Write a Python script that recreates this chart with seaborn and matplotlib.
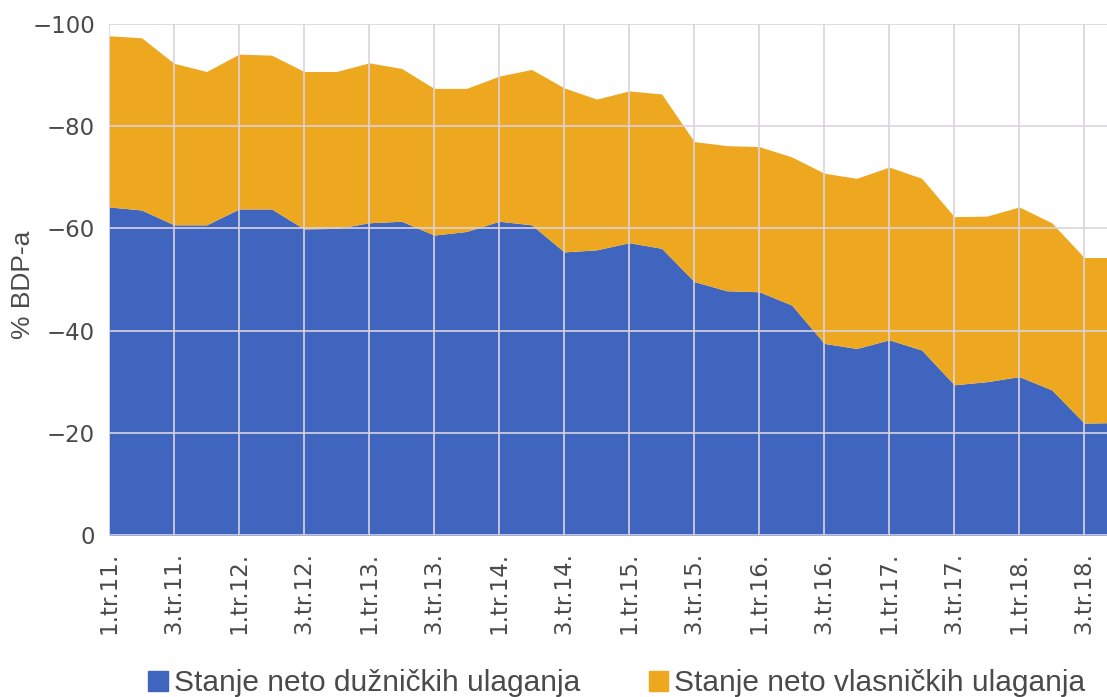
import numpy as np
import matplotlib
matplotlib.use("Agg")
import matplotlib.pyplot as plt
from matplotlib.patches import Patch
import seaborn as sns

# quarterly data, 1.tr.11 .. 4.tr.18 (last one is cut by the right edge)
quarters = [
    "1.tr.11.", "2.tr.11.", "3.tr.11.", "4.tr.11.",
    "1.tr.12.", "2.tr.12.", "3.tr.12.", "4.tr.12.",
    "1.tr.13.", "2.tr.13.", "3.tr.13.", "4.tr.13.",
    "1.tr.14.", "2.tr.14.", "3.tr.14.", "4.tr.14.",
    "1.tr.15.", "2.tr.15.", "3.tr.15.", "4.tr.15.",
    "1.tr.16.", "2.tr.16.", "3.tr.16.", "4.tr.16.",
    "1.tr.17.", "2.tr.17.", "3.tr.17.", "4.tr.17.",
    "1.tr.18.", "2.tr.18.", "3.tr.18.", "4.tr.18.",
]
debt = [-64.2, -63.6, -60.7, -60.7, -63.8, -63.8, -59.9, -60.0,
        -61.1, -61.4, -58.7, -59.4, -61.4, -60.7, -55.4, -55.8,
        -57.2, -56.1, -49.6, -47.8, -47.6, -45.0, -37.5, -36.5,
        -38.2, -36.2, -29.4, -30.0, -31.0, -28.4, -21.9, -22.0]
equity = [-33.5, -33.7, -31.6, -30.0, -30.3, -30.1, -30.8, -30.7,
          -31.3, -29.9, -28.7, -28.0, -28.4, -30.4, -32.1, -29.5,
          -29.7, -30.2, -27.4, -28.4, -28.4, -29.0, -33.3, -33.3,
          -33.8, -33.6, -32.9, -32.4, -33.2, -32.7, -32.4, -32.3]

series_names = ["Stanje neto dužničkih ulaganja", "Stanje neto vlasničkih ulaganja"]
colors = {"debt": "#3F65BF", "equity": "#EEA820", "grid": "#DAD3DE", "text": "#4A4A4A"}

sns.set_theme(style="whitegrid")
plt.rcParams["font.family"] = ["Liberation Sans", "DejaVu Sans"]

fig = plt.figure(figsize=(11.07, 6.97), dpi=100)
ax = fig.add_axes([0.0985, 0.2324, 0.9015, 0.7332])

x = np.arange(len(quarters))
ax.stackplot(x, debt, equity, colors=[colors["debt"], colors["equity"]], linewidth=0)

ax.set_ylim(0, -100)
ax.set_yticks([0, -20, -40, -60, -80, -100])
ax.set_yticklabels(["0", "−20", "−40", "−60", "−80", "−100"],
                   family="DejaVu Sans", fontsize=16.5)
ax.set_xlim(0, 30.7)
ax.set_xticks(x[::2])
ax.set_xticklabels(quarters[::2], rotation=90, ha="center", va="top",
                   family="DejaVu Sans", fontsize=16.5)

ax.set_axisbelow(False)
ax.grid(True, color=colors["grid"], linewidth=1.2)
for s in ax.spines.values():
    s.set_visible(False)
ax.tick_params(axis="both", length=0, colors=colors["text"])
ax.tick_params(axis="y", pad=10)
ax.tick_params(axis="x", pad=12)
ax.set_ylabel("% BDP-a", fontsize=19, color=colors["text"])
ax.yaxis.set_label_coords(-0.074, 0.49)

handles = [Patch(color=colors["debt"]), Patch(color=colors["equity"])]
fig.legend(handles, series_names, loc="center", bbox_to_anchor=(0.557, 0.02),
           ncol=2, frameon=False, fontsize=21.5, handlelength=0.65, handleheight=0.65,
           handletextpad=0.2, columnspacing=2.3, labelcolor=colors["text"])

plt.savefig("out.png", dpi=100)
plt.close()
